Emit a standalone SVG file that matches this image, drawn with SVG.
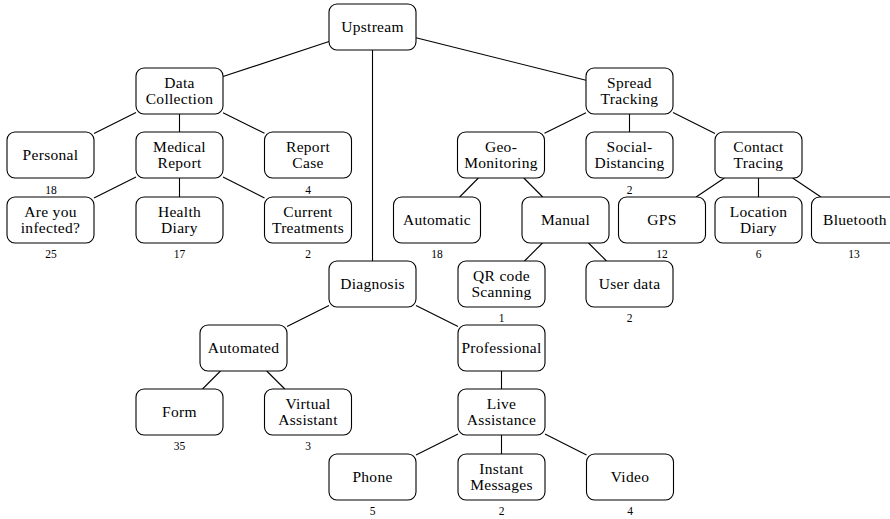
<svg xmlns="http://www.w3.org/2000/svg" width="890" height="519" viewBox="0 0 890 519">
<style>
.n rect{fill:#fff;stroke:#000;stroke-width:1.1}
.n text{font-family:"Liberation Serif","Times New Roman",serif;font-size:15.5px;letter-spacing:0.3px;fill:#000;text-anchor:middle}
.c{text-anchor:middle;font-family:"Liberation Serif","Times New Roman",serif;font-size:11.5px;fill:#000}
#edges line{stroke:#000;stroke-width:1.1}
</style>
<rect width="890" height="519" fill="#fff"/>
<g id="edges">
<line x1="329" y1="41.4" x2="223" y2="76.6"/>
<line x1="372.5" y1="50" x2="372.5" y2="261"/>
<line x1="416" y1="37.8" x2="586" y2="80.2"/>
<line x1="136" y1="112.6" x2="94" y2="133.4"/>
<line x1="179.5" y1="114" x2="179.5" y2="132"/>
<line x1="223" y1="112.7" x2="264.5" y2="133.3"/>
<line x1="136" y1="177" x2="94" y2="198"/>
<line x1="179.5" y1="178" x2="179.5" y2="197"/>
<line x1="223" y1="177" x2="264.5" y2="198"/>
<line x1="586" y1="112.7" x2="544.5" y2="133.3"/>
<line x1="629.5" y1="114" x2="629.5" y2="132"/>
<line x1="673" y1="112.6" x2="715" y2="133.4"/>
<line x1="478.4" y1="178" x2="459.6" y2="197"/>
<line x1="523.8" y1="178" x2="542.7" y2="197"/>
<line x1="724.4" y1="178" x2="696.1" y2="197"/>
<line x1="758.5" y1="178" x2="758.5" y2="197"/>
<line x1="792.6" y1="178" x2="820.9" y2="197"/>
<line x1="542.5" y1="243" x2="524.5" y2="261"/>
<line x1="588.5" y1="243" x2="606.5" y2="261"/>
<line x1="329" y1="305.6" x2="287" y2="326.4"/>
<line x1="416" y1="305.6" x2="458" y2="326.4"/>
<line x1="220.5" y1="371" x2="202.5" y2="389"/>
<line x1="266.7" y1="371" x2="284.8" y2="389"/>
<line x1="501.5" y1="371" x2="501.5" y2="389"/>
<line x1="458" y1="433.9" x2="416" y2="455.1"/>
<line x1="501.5" y1="435" x2="501.5" y2="454"/>
<line x1="545" y1="434" x2="586.5" y2="455"/>
</g>
<g id="upstream" class="n"><rect x="329" y="4" width="87" height="46" rx="8"/><text x="372.5" y="31.5">Upstream</text></g>
<g id="data-collection" class="n"><rect x="136" y="68" width="87" height="46" rx="8"/><text x="179.5" y="88">Data</text><text x="179.5" y="104">Collection</text></g>
<g id="spread-tracking" class="n"><rect x="586" y="68" width="87" height="46" rx="8"/><text x="629.5" y="88">Spread</text><text x="629.5" y="104">Tracking</text></g>
<g id="personal" class="n"><rect x="7" y="132" width="87" height="46" rx="8"/><text x="50.5" y="159.5">Personal</text></g>
<g id="medical-report" class="n"><rect x="136" y="132" width="87" height="46" rx="8"/><text x="179.5" y="152">Medical</text><text x="179.5" y="168">Report</text></g>
<g id="report-case" class="n"><rect x="264.5" y="132" width="87" height="46" rx="8"/><text x="308" y="152">Report</text><text x="308" y="168">Case</text></g>
<g id="geo-monitoring" class="n"><rect x="457.5" y="132" width="87" height="46" rx="8"/><text x="501" y="152">Geo-</text><text x="501" y="168">Monitoring</text></g>
<g id="social-distancing" class="n"><rect x="586" y="132" width="87" height="46" rx="8"/><text x="629.5" y="152">Social-</text><text x="629.5" y="168">Distancing</text></g>
<g id="contact-tracing" class="n"><rect x="715" y="132" width="87" height="46" rx="8"/><text x="758.5" y="152">Contact</text><text x="758.5" y="168">Tracing</text></g>
<g id="are-you-infected" class="n"><rect x="7" y="197" width="87" height="46" rx="8"/><text x="50.5" y="217">Are you</text><text x="50.5" y="233">infected?</text></g>
<g id="health-diary" class="n"><rect x="136" y="197" width="87" height="46" rx="8"/><text x="179.5" y="217">Health</text><text x="179.5" y="233">Diary</text></g>
<g id="current-treatments" class="n"><rect x="264.5" y="197" width="87" height="46" rx="8"/><text x="308" y="217">Current</text><text x="308" y="233">Treatments</text></g>
<g id="automatic" class="n"><rect x="393.5" y="197" width="87" height="46" rx="8"/><text x="437" y="224.5">Automatic</text></g>
<g id="manual" class="n"><rect x="522" y="197" width="87" height="46" rx="8"/><text x="565.5" y="224.5">Manual</text></g>
<g id="gps" class="n"><rect x="618.5" y="197" width="87" height="46" rx="8"/><text x="662" y="224.5">GPS</text></g>
<g id="location-diary" class="n"><rect x="715" y="197" width="87" height="46" rx="8"/><text x="758.5" y="217">Location</text><text x="758.5" y="233">Diary</text></g>
<g id="bluetooth" class="n"><rect x="811.5" y="197" width="87" height="46" rx="8"/><text x="855" y="224.5">Bluetooth</text></g>
<g id="diagnosis" class="n"><rect x="329" y="261" width="87" height="46" rx="8"/><text x="372.5" y="288.5">Diagnosis</text></g>
<g id="qr-code-scanning" class="n"><rect x="458" y="261" width="87" height="46" rx="8"/><text x="501.5" y="281">QR code</text><text x="501.5" y="297">Scanning</text></g>
<g id="user-data" class="n"><rect x="586" y="261" width="87" height="46" rx="8"/><text x="629.5" y="288.5">User data</text></g>
<g id="automated" class="n"><rect x="200" y="325" width="87" height="46" rx="8"/><text x="243.5" y="352.5">Automated</text></g>
<g id="professional" class="n"><rect x="458" y="325" width="87" height="46" rx="8"/><text x="501.5" y="352.5">Professional</text></g>
<g id="form" class="n"><rect x="136" y="389" width="87" height="46" rx="8"/><text x="179.5" y="416.5">Form</text></g>
<g id="virtual-assistant" class="n"><rect x="264.5" y="389" width="87" height="46" rx="8"/><text x="308" y="409">Virtual</text><text x="308" y="425">Assistant</text></g>
<g id="live-assistance" class="n"><rect x="458" y="389" width="87" height="46" rx="8"/><text x="501.5" y="409">Live</text><text x="501.5" y="425">Assistance</text></g>
<g id="phone" class="n"><rect x="329" y="454" width="87" height="46" rx="8"/><text x="372.5" y="481.5">Phone</text></g>
<g id="instant-messages" class="n"><rect x="458" y="454" width="87" height="46" rx="8"/><text x="501.5" y="474">Instant</text><text x="501.5" y="490">Messages</text></g>
<g id="video" class="n"><rect x="586.5" y="454" width="87" height="46" rx="8"/><text x="630" y="481.5">Video</text></g>
<g id="counts">
<text class="c" x="51" y="193.5">18</text>
<text class="c" x="308" y="193.5">4</text>
<text class="c" x="629.5" y="193.5">2</text>
<text class="c" x="51" y="258">25</text>
<text class="c" x="179.5" y="258">17</text>
<text class="c" x="308" y="258">2</text>
<text class="c" x="437" y="258">18</text>
<text class="c" x="662" y="258">12</text>
<text class="c" x="758.5" y="258">6</text>
<text class="c" x="854" y="258">13</text>
<text class="c" x="501.5" y="321.5">1</text>
<text class="c" x="629.5" y="321.5">2</text>
<text class="c" x="179.5" y="450">35</text>
<text class="c" x="308" y="450">3</text>
<text class="c" x="372.5" y="515">5</text>
<text class="c" x="501.5" y="515">2</text>
<text class="c" x="630" y="515">4</text>
</g>
</svg>
